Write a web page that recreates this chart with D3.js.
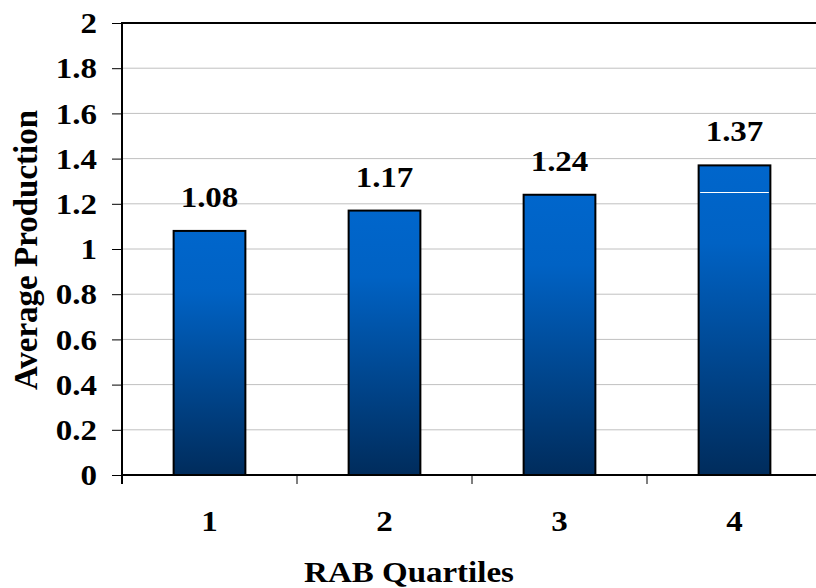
<!DOCTYPE html>
<html>
<head>
<meta charset="utf-8">
<script src="https://cdn.jsdelivr.net/npm/d3@7"></script>
<style>
  html, body { margin: 0; padding: 0; background: #fff; }
  svg { display: block; }
</style>
</head>
<body>
<svg id="chart" width="816" height="588"></svg>
<script>
// Average production by RAB quartile
const quartiles = ["1", "2", "3", "4"];
const production = [1.08, 1.17, 1.24, 1.37];
const yTicks = [0, 0.2, 0.4, 0.6, 0.8, 1, 1.2, 1.4, 1.6, 1.8, 2];
const yTickLabels = ["0", "0.2", "0.4", "0.6", "0.8", "1", "1.2", "1.4", "1.6", "1.8", "2"];
// thin highlight line drawn inside the last bar
const highlightLevel = [1.25];

const FONT = "'Liberation Serif', 'Times New Roman', Times, serif";
const svg = d3.select("#chart");
const plotLeft = 122, plotTop = 23, plotBottom = 475, plotRight = 822;
const squash = 0.87; // horizontal labels are set slightly flattened

function styleText(sel) {
  return sel.style("font-family", FONT).style("font-weight", "bold")
    .style("font-size", "33px").attr("fill", "#000");
}

const x = d3.scaleBand().domain(quartiles).range([plotLeft, plotRight]).padding(0);
const y = d3.scaleLinear().domain([0, 2]).range([plotBottom, plotTop]);
const barW = x.bandwidth() * 0.41;

const defs = svg.append("defs");
const grad = defs.append("linearGradient")
  .attr("id", "barGrad").attr("x1", 0).attr("y1", 0).attr("x2", 0).attr("y2", 1);
grad.append("stop").attr("offset", "0%").attr("stop-color", "#0066CC");
grad.append("stop").attr("offset", "25%").attr("stop-color", "#0062C4");
grad.append("stop").attr("offset", "100%").attr("stop-color", "#002C5C");

// horizontal gridlines
svg.append("g").selectAll("line")
  .data(yTicks.filter(t => t > 0 && t < 2))
  .join("line")
  .attr("x1", plotLeft).attr("x2", 816)
  .attr("y1", d => y(d)).attr("y2", d => y(d))
  .attr("stroke", "#c0c0c0").attr("stroke-width", 1);

// y axis
const yAxis = d3.axisLeft(y).tickValues(yTicks).tickSize(10)
  .tickFormat((d, i) => yTickLabels[i]);
const gy = svg.append("g").attr("transform", `translate(${plotLeft},0)`).call(yAxis);
gy.select(".domain").remove();
gy.selectAll(".tick line").attr("stroke", "#000").attr("stroke-width", 1);
gy.selectAll(".tick text").remove();
gy.selectAll(".tick").append("text")
  .attr("transform", `translate(-25,0) scale(1,${squash})`)
  .attr("text-anchor", "end")
  .attr("dy", "0.34em")
  .call(styleText)
  .text((d, i) => yTickLabels[i]);

// x axis ticks at band boundaries
const boundaries = quartiles.map(q => x(q));
svg.append("g").selectAll("line")
  .data(boundaries)
  .join("line")
  .attr("x1", d => d).attr("x2", d => d)
  .attr("y1", plotBottom).attr("y2", plotBottom + 9)
  .attr("stroke", "#000").attr("stroke-width", 1);

// x tick labels
svg.append("g").selectAll("text")
  .data(quartiles)
  .join("text")
  .attr("transform", d => `translate(${x(d) + x.bandwidth() / 2},531) scale(1,${squash})`)
  .attr("text-anchor", "middle")
  .call(styleText)
  .text(d => d);

// bars
svg.append("g").selectAll("rect")
  .data(production)
  .join("rect")
  .attr("x", (d, i) => x(quartiles[i]) + (x.bandwidth() - barW) / 2)
  .attr("width", barW)
  .attr("y", d => y(d))
  .attr("height", d => y(0) - y(d))
  .attr("fill", "url(#barGrad)")
  .attr("stroke", "#000").attr("stroke-width", 2);

// highlight line inside the last bar
const lastQ = quartiles[quartiles.length - 1];
svg.append("g").selectAll("line")
  .data(highlightLevel)
  .join("line")
  .attr("x1", x(lastQ) + (x.bandwidth() - barW) / 2 + 1.5)
  .attr("x2", x(lastQ) + (x.bandwidth() + barW) / 2 - 1.5)
  .attr("y1", d => y(d)).attr("y2", d => y(d))
  .attr("stroke", "#fff").attr("stroke-width", 1);

// value labels
svg.append("g").selectAll("text")
  .data(production)
  .join("text")
  .attr("transform", (d, i) => `translate(${x(quartiles[i]) + x.bandwidth() / 2},${y(d) - 24}) scale(1,${squash})`)
  .attr("text-anchor", "middle")
  .call(styleText)
  .text(d => d.toFixed(2));

// plot frame: left, top and bottom edges
svg.append("line").attr("x1", plotLeft).attr("x2", plotLeft).attr("y1", plotTop).attr("y2", plotBottom + 9)
  .attr("stroke", "#000").attr("stroke-width", 2);
svg.append("line").attr("x1", plotLeft - 1).attr("x2", 816).attr("y1", plotTop).attr("y2", plotTop)
  .attr("stroke", "#000").attr("stroke-width", 2);
svg.append("line").attr("x1", plotLeft - 1).attr("x2", 816).attr("y1", plotBottom).attr("y2", plotBottom)
  .attr("stroke", "#000").attr("stroke-width", 2);

// axis titles
svg.append("text")
  .attr("transform", `translate(409,582) scale(1,${squash})`)
  .attr("text-anchor", "middle")
  .call(styleText)
  .text("RAB Quartiles");

svg.append("text")
  .attr("transform", "translate(37,250) rotate(-90)")
  .attr("text-anchor", "middle")
  .call(styleText)
  .text("Average Production");
</script>
</body>
</html>
